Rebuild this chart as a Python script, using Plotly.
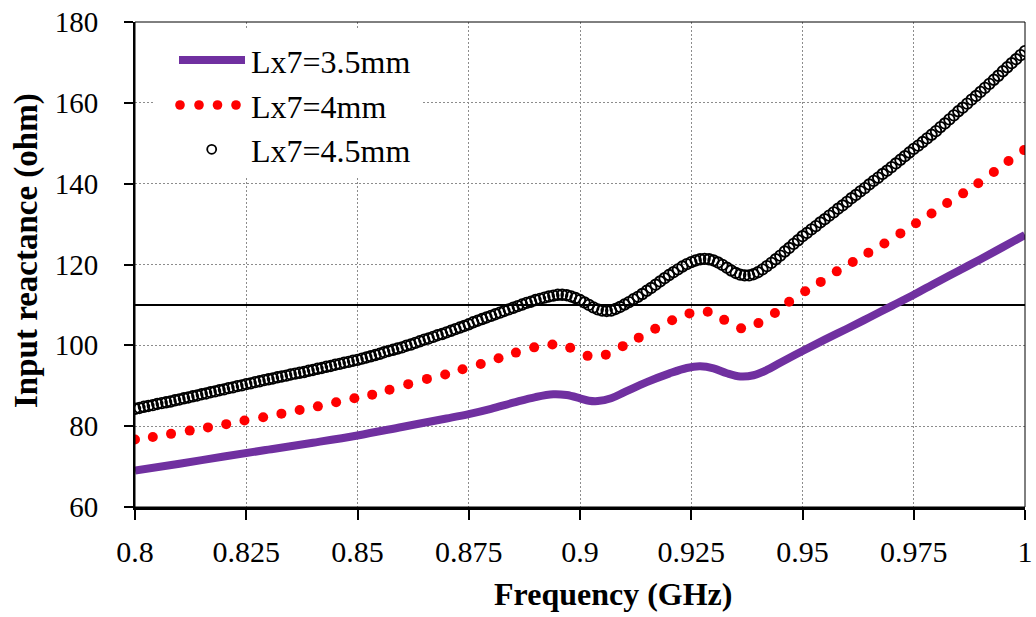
import numpy as np
import plotly.graph_objects as go

# ---------------- data ----------------
LABELS = ["Lx7=3.5mm", "Lx7=4mm", "Lx7=4.5mm"]

# Lx7 = 3.5 mm (solid purple line)
FREQ_35 = [0.800, 0.810, 0.820, 0.830, 0.840, 0.850, 0.860, 0.870, 0.875, 0.880,
           0.885, 0.890, 0.894, 0.897, 0.900, 0.902, 0.904, 0.907, 0.910, 0.915,
           0.920, 0.924, 0.927, 0.930, 0.933, 0.936, 0.939, 0.942, 0.945, 0.950,
           0.955, 0.960, 0.965, 0.970, 0.975, 0.980, 0.985, 0.990, 0.995, 1.000]
X_35 = [69.0, 70.7, 72.5, 74.2, 75.9, 77.7, 79.8, 81.9, 83.0, 84.3,
        85.8, 87.2, 87.9, 87.7, 86.9, 86.3, 86.2, 86.9, 88.4, 90.9,
        93.0, 94.4, 94.8, 94.3, 93.1, 92.3, 92.6, 93.9, 95.7, 98.6,
        101.4, 104.1, 106.9, 109.7, 112.5, 115.5, 118.4, 121.3, 124.3, 127.3]

# Lx7 = 4 mm (red round dots)
FREQ_40 = [0.8000, 0.8040, 0.8081, 0.8123, 0.8164, 0.8205, 0.8246, 0.8288, 0.8329, 0.8370,
           0.8411, 0.8452, 0.8493, 0.8533, 0.8572, 0.8614, 0.8656, 0.8697, 0.8736, 0.8777,
           0.8817, 0.8856, 0.8897, 0.8938, 0.8978, 0.9017, 0.9058, 0.9096, 0.9132, 0.9169,
           0.9207, 0.9246, 0.9287, 0.9324, 0.9362, 0.9401, 0.9438, 0.9470, 0.9506, 0.9541,
           0.9577, 0.9613, 0.9648, 0.9684, 0.9720, 0.9755, 0.9790, 0.9825, 0.9861, 0.9895,
           0.9930, 0.9963, 0.9998]
X_40 = [76.7, 77.3, 78.1, 78.9, 79.7, 80.5, 81.4, 82.2, 83.1, 84.0,
        84.9, 85.9, 86.9, 87.8, 89.0, 90.4, 91.7, 92.8, 94.1, 95.4,
        96.8, 98.2, 99.5, 100.2, 99.4, 97.4, 97.7, 99.8, 101.9, 104.1,
        106.2, 107.9, 108.3, 106.3, 104.2, 105.5, 108.0, 110.8, 113.4, 115.7,
        118.3, 120.6, 122.9, 125.2, 127.7, 130.2, 132.6, 135.2, 137.6, 140.1,
        142.9, 145.6, 148.3]

# Lx7 = 4.5 mm (open black circles), 0.800 ... 1.000 GHz every 0.001 GHz
X_45 = [84.3, 84.5, 84.8, 85.0, 85.2, 85.5, 85.7, 85.9, 86.1, 86.4,
        86.6, 86.9, 87.1, 87.4, 87.6, 87.9, 88.1, 88.4, 88.6, 88.9,
        89.1, 89.4, 89.6, 89.9, 90.1, 90.4, 90.6, 90.9, 91.1, 91.4,
        91.6, 91.8, 92.1, 92.3, 92.5, 92.8, 93.0, 93.2, 93.4, 93.7,
        93.9, 94.2, 94.4, 94.7, 94.9, 95.2, 95.4, 95.7, 95.9, 96.2,
        96.4, 96.7, 97.0, 97.3, 97.6, 97.9, 98.3, 98.6, 98.9, 99.2,
        99.5, 99.9, 100.2, 100.6, 101.0, 101.4, 101.7, 102.1, 102.5, 102.8,
        103.2, 103.6, 104.0, 104.4, 104.8, 105.2, 105.7, 106.1, 106.5, 106.9,
        107.3, 107.7, 108.1, 108.5, 108.9, 109.3, 109.7, 110.1, 110.5, 110.8,
        111.2, 111.5, 111.8, 112.1, 112.3, 112.5, 112.5, 112.4, 112.1, 111.7,
        111.2, 110.6, 110.0, 109.4, 108.9, 108.6, 108.5, 108.6, 109.0, 109.5,
        110.1, 110.7, 111.4, 112.0, 112.7, 113.5, 114.2, 115.0, 115.8, 116.6,
        117.4, 118.1, 118.8, 119.5, 120.1, 120.6, 121.0, 121.3, 121.4, 121.3,
        121.0, 120.5, 119.9, 119.2, 118.5, 117.9, 117.5, 117.3, 117.3, 117.6,
        118.1, 118.8, 119.6, 120.4, 121.3, 122.2, 123.2, 124.1, 125.1, 126.0,
        127.0, 127.8, 128.7, 129.5, 130.4, 131.2, 132.1, 132.9, 133.8, 134.6,
        135.5, 136.4, 137.2, 138.1, 138.9, 139.8, 140.7, 141.5, 142.4, 143.2,
        144.1, 145.0, 145.9, 146.8, 147.7, 148.6, 149.4, 150.3, 151.2, 152.1,
        153.0, 154.0, 154.9, 155.9, 156.9, 157.9, 158.8, 159.8, 160.8, 161.7,
        162.7, 163.7, 164.7, 165.7, 166.7, 167.8, 168.8, 169.8, 170.8, 171.8,
        172.8]
FREQ_45 = np.round(np.linspace(0.8, 1.0, len(X_45)), 4)

REF_LEVEL = 110  # horizontal reference line (ohm)

X_TICKS = [0.8, 0.825, 0.85, 0.875, 0.9, 0.925, 0.95, 0.975, 1.0]
X_TICK_TEXT = ["0.8", "0.825", "0.85", "0.875", "0.9", "0.925", "0.95", "0.975", "1"]
Y_TICKS = [60, 80, 100, 120, 140, 160, 180]

X_TITLE = "Frequency (GHz)"
Y_TITLE = "Input reactance (ohm)"

# ---------------- styling ----------------
FONT = "Liberation Serif, Times New Roman, serif"
PURPLE = "#7030A0"
RED = "#FF0000"

W, H = 1036, 617
ML, MR, MT, MB = 135, 11, 22, 110
PW, PH = W - ML - MR, H - MT - MB


def px(xp):
    return (xp - ML) / PW


def py(yp):
    return (H - MB - yp) / PH


fig = go.Figure()

fig.add_trace(go.Scatter(
    x=FREQ_35, y=X_35, mode="lines", name=LABELS[0],
    line=dict(color=PURPLE, width=8, shape="spline", smoothing=1.0),
    showlegend=False))

fig.add_trace(go.Scatter(
    x=FREQ_40, y=X_40, mode="markers", name=LABELS[1],
    marker=dict(color=RED, size=10, line=dict(width=0)),
    showlegend=False))

fig.add_trace(go.Scatter(
    x=FREQ_45, y=X_45, mode="markers", name=LABELS[2],
    marker=dict(symbol="circle-open", color="black", size=10.5,
                line=dict(width=1.9, color="black")),
    showlegend=False))

shapes = []
# reference line
shapes.append(dict(type="line", xref="paper", x0=0, x1=1, yref="y",
                   y0=REF_LEVEL, y1=REF_LEVEL,
                   line=dict(color="black", width=2), layer="between"))
# thin plot-area border
shapes.append(dict(type="rect", xref="paper", yref="paper", x0=0, x1=1, y0=0, y1=1,
                   line=dict(color="black", width=1), layer="above"))

# ---- legend (drawn manually to mimic the dotted sample) ----
shapes.append(dict(type="rect", xref="paper", yref="paper",
                   x0=px(155), x1=px(423), y0=py(178), y1=py(28),
                   fillcolor="white", line=dict(width=0), layer="above"))
shapes.append(dict(type="line", xref="paper", yref="paper",
                   x0=px(179), x1=px(245), y0=py(60), y1=py(60),
                   line=dict(color=PURPLE, width=8), layer="above"))
for cx in (180, 199, 217.5, 236):
    shapes.append(dict(type="circle", xref="paper", yref="paper",
                       xsizemode="pixel", ysizemode="pixel",
                       xanchor=px(cx), yanchor=py(105),
                       x0=-4.8, x1=4.8, y0=-4.8, y1=4.8,
                       fillcolor=RED, line=dict(width=0), layer="above"))
shapes.append(dict(type="circle", xref="paper", yref="paper",
                   xsizemode="pixel", ysizemode="pixel",
                   xanchor=px(211.7), yanchor=py(149.3),
                   x0=-4.5, x1=4.5, y0=-4.5, y1=4.5,
                   fillcolor="white", line=dict(color="black", width=1.8),
                   layer="above"))

annotations = []
for lab, yy in zip(LABELS, (60, 105, 149)):
    annotations.append(dict(text=lab, xref="paper", yref="paper",
                            x=px(249), y=py(yy + 2), xanchor="left", yanchor="middle",
                            showarrow=False, font=dict(family=FONT, size=32, color="black")))

annotations.append(dict(text="<b>" + X_TITLE + "</b>", xref="paper", yref="paper",
                        x=px(613), y=py(594), xanchor="center", yanchor="middle",
                        showarrow=False, font=dict(family=FONT, size=32, color="black")))
annotations.append(dict(text="<b>" + Y_TITLE + "</b>", xref="paper", yref="paper",
                        x=px(26), y=py(251), xanchor="center", yanchor="middle",
                        textangle=-90, showarrow=False,
                        font=dict(family=FONT, size=33, color="black")))

fig.update_layout(
    width=W, height=H,
    margin=dict(l=ML, r=MR, t=MT, b=MB, autoexpand=False),
    paper_bgcolor="white", plot_bgcolor="white",
    font=dict(family=FONT, color="black"),
    shapes=shapes, annotations=annotations,
    showlegend=False,
)

fig.update_xaxes(
    range=[0.8, 1.0], tickvals=X_TICKS, ticktext=X_TICK_TEXT,
    automargin=False,
    showline=True, linecolor="black", linewidth=3,
    ticks="outside", ticklen=10, tickwidth=1.5, tickcolor="black",
    tickfont=dict(family=FONT, size=30, color="black"),
    ticklabelstandoff=6,
    showgrid=True, gridcolor="#8c8c8c", gridwidth=1, griddash="2px,2px",
    zeroline=False)

fig.update_yaxes(
    range=[60, 180], tickvals=Y_TICKS,
    automargin=False,
    showline=True, linecolor="black", linewidth=2,
    ticks="outside", ticklen=9, tickwidth=1.5, tickcolor="black",
    tickfont=dict(family=FONT, size=29, color="black"),
    ticklabelstandoff=20,
    showgrid=True, gridcolor="#8c8c8c", gridwidth=1, griddash="2px,2px",
    zeroline=False)

fig.write_html("out.html")
